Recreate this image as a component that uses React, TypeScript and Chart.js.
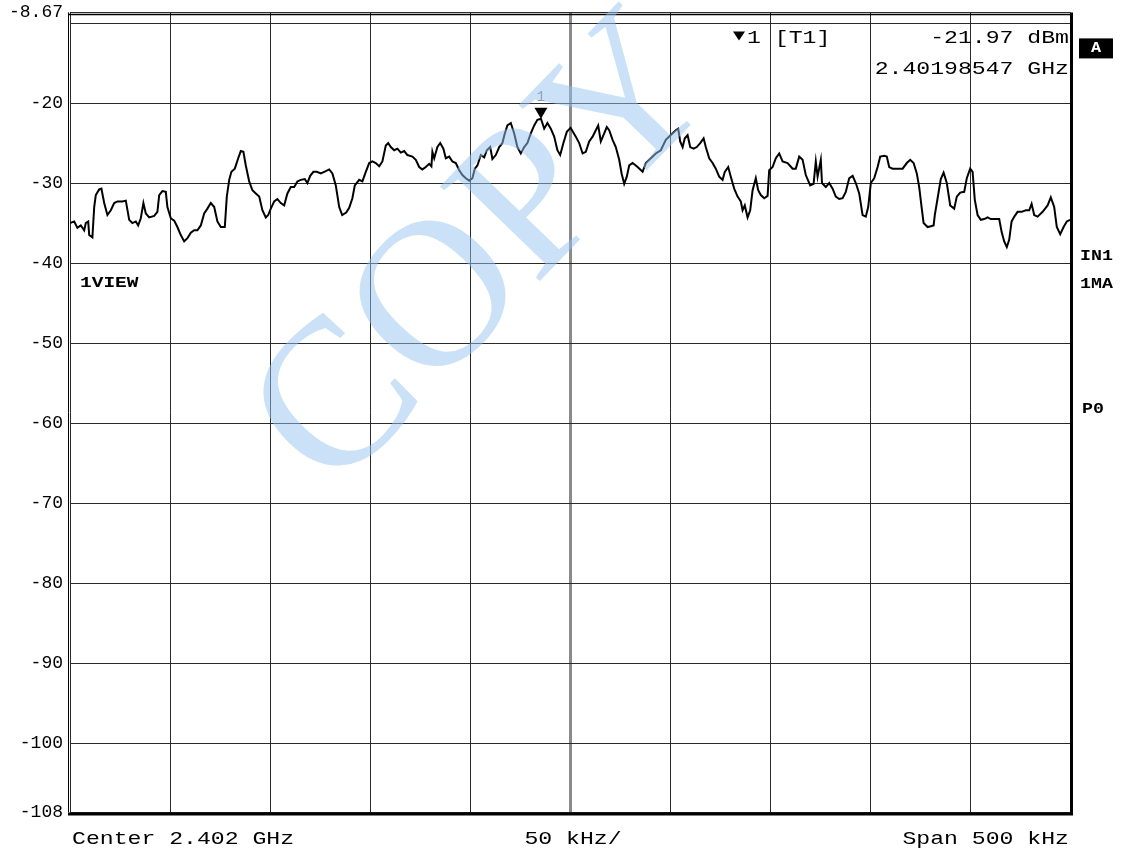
import { useEffect, useRef } from "react";
import { Chart, registerables } from "chart.js";

Chart.register(...registerables);

// Frequency offset from the 2.402 GHz centre (kHz) and measured level (dBm)
const offsetKHz = [
  -250, -247.9, -246.3, -244.6, -242.9, -242.1, -240.9, -240.4, -238.8, -237.9,
  -237.1, -235.4, -234.3, -232.9, -231.3, -229.6, -227.9, -226.3, -223.8, -222.1,
  -220.4, -218.8, -217.1, -215.9, -214.6, -213.3, -212.1, -210.4, -207.9, -206.3,
  -205.4, -203.8, -202.1, -201.3, -199.6, -197.9, -196.3, -194.6, -192.9, -191.3,
  -189.6, -187.9, -186.3, -184.6, -182.9, -181.3, -179.6, -177.9, -176.3, -174.6,
  -172.6, -171.6, -170.4, -169.3, -167.6, -165.9, -164.6, -163.3, -162.1, -160.4,
  -158.8, -157.1, -155.4, -153.8, -152.1, -150.9, -149.6, -147.9, -146.3, -144.6,
  -142.9, -141.3, -139.6, -137.9, -136.3, -134.6, -132.6, -131.3, -129.9, -128.3,
  -126.6, -124.6, -122.9, -120.4, -118.8, -117.1, -115.4, -113.9, -111.9, -110.4,
  -108.8, -107.6, -105.4, -103.8, -102.1, -100.4, -98.8, -97.1, -95.4, -93.8,
  -92.1, -90.9, -89.6, -87.9, -86.3, -84.6, -82.9, -81.3, -78.8, -77.1,
  -75.4, -73.8, -72.1, -70.4, -69.3, -68.8, -67.9, -66.3, -64.9, -63.3,
  -62.1, -60.4, -58.8, -57.1, -55.4, -53.8, -52.1, -50.4, -48.8, -47.6,
  -46.3, -44.6, -42.9, -41.6, -39.9, -38.8, -37.1, -35.4, -33.8, -32.6,
  -31.3, -29.6, -27.9, -26.3, -24.6, -22.9, -21.3, -19.6, -17.9, -16.3,
  -14.53, -12.9, -11.3, -9.6, -7.9, -6.3, -4.9, -3.3, -1.6, 0.3,
  2.9, 4.6, 6.3, 7.9, 9.6, 11.3, 12.9, 14.1, 15.4, 17.1,
  18.4, 19.6, 21.3, 22.9, 24.6, 25.8, 27.1, 28.4, 29.6, 31.3,
  33.8, 36.3, 37.9, 40.4, 42.9, 45.4, 47.9, 50.4, 52.9, 54.1,
  55.1, 56.3, 57.4, 58.8, 60.1, 61.8, 63.4, 65.1, 66.8, 67.9,
  69.6, 71.3, 72.9, 74.6, 76.3, 77.4, 79.1, 80.4, 82.1, 83.8,
  85.4, 86.3, 87.4, 88.8, 90.1, 91.3, 92.9, 94.1, 95.4, 97.1,
  98.8, 99.6, 101.3, 102.9, 104.6, 106.3, 108.8, 111.3, 112.9, 114.6,
  116.3, 117.9, 120.1, 121.8, 122.9, 123.8, 125.4, 126.0, 127.9, 129.6,
  131.3, 132.9, 134.6, 136.3, 137.9, 139.6, 141.3, 142.9, 144.6, 146.3,
  147.9, 149.1, 150.4, 152.1, 153.8, 155.1, 157.1, 158.4, 159.6, 161.3,
  163.8, 166.3, 168.4, 170.1, 171.8, 173.4, 174.6, 175.8, 176.8, 178.8,
  180.4, 181.8, 182.4, 183.8, 185.4, 186.8, 188.4, 190.1, 192.1, 193.4,
  195.1, 197.1, 198.4, 200.1, 201.3, 202.4, 203.8, 205.4, 207.1, 208.8,
  210.4, 212.1, 214.6, 215.8, 217.1, 218.4, 219.6, 220.8, 222.4, 223.8,
  225.8, 227.9, 229.6, 230.8, 232.1, 233.8, 236.3, 238.8, 240.4, 242.1,
  243.4, 245.1, 246.8, 248.4, 250,
];

const levelDBm = [
  -35.0, -34.8, -35.6, -35.3, -35.9, -35.0, -34.8, -36.5, -36.8, -33.0,
  -31.5, -30.8, -30.7, -32.5, -34.0, -33.4, -32.5, -32.3, -32.3, -32.2,
  -34.6, -35.0, -34.8, -35.3, -34.4, -32.5, -33.8, -34.3, -34.1, -33.6,
  -31.5, -31.0, -31.1, -33.0, -34.4, -34.7, -35.5, -36.5, -37.3, -36.9,
  -36.2, -35.9, -35.9, -35.3, -33.8, -33.2, -32.5, -33.0, -34.8, -35.5,
  -35.5, -31.7, -29.6, -28.6, -28.2, -26.9, -26.0, -26.1, -27.8, -29.8,
  -30.9, -31.3, -31.7, -33.4, -34.3, -34.0, -33.2, -32.3, -32.0, -32.5,
  -32.8, -31.3, -30.5, -30.5, -29.8, -29.6, -29.5, -30.0, -29.1, -28.6,
  -28.6, -28.8, -28.6, -28.3, -28.8, -30.3, -33.0, -34.0, -33.7, -33.1,
  -31.9, -30.3, -29.6, -29.8, -28.6, -27.5, -27.3, -27.5, -27.9, -27.3,
  -25.3, -25.0, -25.5, -25.9, -25.7, -26.2, -26.0, -26.5, -26.7, -27.1,
  -28.0, -28.3, -28.0, -27.6, -27.9, -26.1, -26.9, -25.5, -25.0, -25.7,
  -26.9, -26.7, -27.3, -27.5, -28.4, -29.0, -29.4, -29.7, -29.4, -28.2,
  -27.8, -26.5, -26.8, -25.9, -25.5, -27.0, -26.5, -25.5, -25.0, -23.8,
  -22.8, -22.5, -23.8, -25.5, -26.3, -25.5, -25.0, -23.8, -22.8, -22.1,
  -21.97, -23.2, -22.5, -23.2, -24.2, -25.9, -26.5, -25.0, -23.6, -23.1,
  -24.2, -25.0, -26.3, -26.1, -24.8, -24.2, -23.4, -22.8, -24.8, -23.8,
  -23.0, -23.4, -24.6, -25.5, -27.1, -28.8, -30.1, -29.2, -27.8, -27.5,
  -28.0, -28.6, -27.5, -26.9, -26.3, -25.9, -24.6, -24.0, -23.4, -23.2,
  -24.8, -25.5, -24.4, -24.0, -25.5, -25.7, -25.5, -25.0, -24.4, -25.5,
  -26.9, -27.5, -28.2, -29.2, -29.6, -28.6, -28.0, -29.2, -30.7, -31.7,
  -32.3, -33.4, -32.8, -34.3, -33.4, -30.9, -29.4, -30.9, -31.5, -31.9,
  -31.6, -28.4, -28.0, -26.9, -26.3, -27.3, -27.5, -28.2, -28.2, -26.7,
  -27.1, -29.0, -30.3, -30.1, -27.3, -29.2, -27.1, -30.0, -30.5, -30.0,
  -30.7, -31.7, -32.0, -31.9, -31.1, -29.4, -29.1, -30.0, -31.3, -34.0,
  -34.2, -33.0, -30.0, -29.4, -28.0, -26.7, -26.6, -26.7, -28.0, -28.2,
  -28.2, -28.2, -27.5, -27.1, -27.5, -28.8, -30.5, -33.0, -35.0, -35.5,
  -35.4, -35.3, -34.0, -31.9, -29.5, -28.7, -30.0, -32.8, -33.2, -31.7,
  -31.2, -31.1, -29.4, -28.2, -28.6, -32.1, -34.0, -34.6, -34.5, -34.3,
  -34.5, -34.5, -34.5, -36.1, -37.3, -38.0, -37.1, -34.8, -34.1, -33.6,
  -33.6, -33.4, -33.4, -32.6, -34.0, -34.2, -33.6, -32.8, -31.8, -33.0,
  -35.5, -36.4, -35.5, -34.8, -34.6,
];

// Reference-level axis: 100 dB display range, 10 dB per division
const yTickValues = [-108.67, -100, -90, -80, -70, -60, -50, -40, -30, -20, -10, -8.67];
const yTickLabels = ["-108", "-100", "-90", "-80", "-70", "-60", "-50", "-40", "-30", "-20", "", "-8.67"];
// Frequency axis: 50 kHz per division
const xTickValues = [-250, -200, -150, -100, -50, 0, 50, 100, 150, 200, 250];

const centerLabel = "Center 2.402 GHz";
const divisionLabel = "50 kHz/";
const spanLabel = "Span 500 kHz";

const markerFreqKHz = -14.53;
const markerLevel = -21.97;
const markerTitle = "1 [T1]";
const markerLevelText = "-21.97 dBm";
const markerFreqText = "2.40198547 GHz";

const leftSideLabels = ["1VIEW"];
const rightSideLabels = ["IN1", "1MA", "P0"];
const watermark = "COPY";

const MONO = '"Liberation Mono", "DejaVu Sans Mono", monospace';

function wideText(
  ctx: CanvasRenderingContext2D,
  text: string,
  x: number,
  y: number,
  align: "left" | "center" | "right",
  font: string,
  sx: number,
  color: string
) {
  ctx.save();
  ctx.font = font;
  ctx.fillStyle = color;
  ctx.textBaseline = "middle";
  ctx.textAlign = "left";
  const w = ctx.measureText(text).width * sx;
  const left = align === "left" ? x : align === "center" ? x - w / 2 : x - w;
  ctx.translate(left, y);
  ctx.scale(sx, 1);
  ctx.fillText(text, 0, 0);
  ctx.restore();
}

const analyzerDecor = {
  id: "analyzerDecor",
  afterDatasetsDraw(chart: any) {
    const { ctx, chartArea, scales } = chart;
    const { left, right, top, bottom } = chartArea;

    // frame: thin double line on left/top, heavy line on right/bottom
    ctx.save();
    ctx.strokeStyle = "#000";
    ctx.lineWidth = 1;
    ctx.beginPath();
    ctx.moveTo(left - 1.5, top);
    ctx.lineTo(left - 1.5, bottom);
    ctx.stroke();
    ctx.lineWidth = 1.5;
    ctx.beginPath();
    ctx.moveTo(left - 2, top + 2);
    ctx.lineTo(right, top + 2);
    ctx.stroke();
    ctx.lineWidth = 3;
    ctx.beginPath();
    ctx.moveTo(right + 1.5, top);
    ctx.lineTo(right + 1.5, bottom + 3);
    ctx.moveTo(left - 2, bottom + 1.5);
    ctx.lineTo(right + 3, bottom + 1.5);
    ctx.stroke();
    ctx.restore();

    // marker on the trace
    const mx = scales.x.getPixelForValue(markerFreqKHz);
    const my = scales.y.getPixelForValue(markerLevel);
    ctx.save();
    ctx.fillStyle = "#000";
    ctx.beginPath();
    ctx.moveTo(mx - 6.5, my - 11);
    ctx.lineTo(mx + 6.5, my - 11);
    ctx.lineTo(mx, my);
    ctx.closePath();
    ctx.fill();
    ctx.restore();
    wideText(ctx, "1", mx, my - 22, "center", `14px ${MONO}`, 1, "#808080");

    // marker readout
    const l1 = top + 24;
    const l2 = top + 57;
    ctx.save();
    ctx.fillStyle = "#000";
    ctx.beginPath();
    ctx.moveTo(733, l1 - 5);
    ctx.lineTo(745, l1 - 5);
    ctx.lineTo(739, l1 + 4);
    ctx.closePath();
    ctx.fill();
    ctx.restore();
    const txtFont = `18.5px ${MONO}`;
    wideText(ctx, markerTitle, 747, l1 + 2, "left", txtFont, 1.25, "#000");
    wideText(ctx, markerLevelText, right - 1, l1 + 2, "right", txtFont, 1.25, "#000");
    wideText(ctx, markerFreqText, right - 1, l2, "right", txtFont, 1.25, "#000");

    // bottom annotations
    const by = bottom + 27;
    wideText(ctx, centerLabel, left + 2, by, "left", txtFont, 1.25, "#000");
    wideText(ctx, divisionLabel, (left + right) / 2 + 3, by, "center", txtFont, 1.25, "#000");
    wideText(ctx, spanLabel, right - 1, by, "right", txtFont, 1.25, "#000");

    // side status labels
    const boldFont = `bold 15px ${MONO}`;
    wideText(ctx, leftSideLabels[0], left + 10, scales.y.getPixelForValue(-42.5), "left", boldFont, 1.3, "#000");
    wideText(ctx, rightSideLabels[0], right + 10, scales.y.getPixelForValue(-39.2), "left", boldFont, 1.22, "#000");
    wideText(ctx, rightSideLabels[1], right + 10, scales.y.getPixelForValue(-42.6), "left", boldFont, 1.22, "#000");
    wideText(ctx, rightSideLabels[2], right + 12, scales.y.getPixelForValue(-58.3), "left", boldFont, 1.22, "#000");

    // trace indicator box
    ctx.save();
    ctx.fillStyle = "#000";
    ctx.fillRect(right + 9, top + 26, 34, 20);
    ctx.restore();
    wideText(ctx, "A", right + 26, top + 36.5, "center", `bold 14px ${MONO}`, 1.2, "#fff");

    // translucent watermark across the plot
    ctx.save();
    ctx.translate(left + 0.417 * (right - left), top + 244);
    ctx.rotate((-46 * Math.PI) / 180);
    ctx.font = `210px "Liberation Serif", "DejaVu Serif", serif`;
    ctx.textAlign = "center";
    ctx.textBaseline = "middle";
    ctx.fillStyle = "rgba(150, 195, 240, 0.5)";
    ctx.fillText(watermark, 0, 0);
    ctx.restore();
  },
};

export default function App() {
  const canvasRef = useRef<HTMLCanvasElement | null>(null);

  useEffect(() => {
    const canvas = canvasRef.current;
    if (!canvas) return;
    const points = offsetKHz.map((f, i) => ({ x: f, y: levelDBm[i] }));

    const chart = new Chart(canvas, {
      type: "line",
      data: {
        datasets: [
          {
            data: points,
            borderColor: "#000",
            borderWidth: 2,
            pointRadius: 0,
            tension: 0,
            fill: false,
          },
        ],
      },
      options: {
        responsive: false,
        animation: false,
        events: [],
        layout: { padding: { top: 12.4, right: 55, left: 0, bottom: 0 } },
        plugins: {
          legend: { display: false },
          tooltip: { enabled: false },
          title: { display: false },
        },
        scales: {
          x: {
            type: "linear",
            min: -250,
            max: 250,
            afterBuildTicks: (s: any) => {
              s.ticks = xTickValues.map((v) => ({ value: v }));
            },
            afterFit: (s: any) => {
              s.height = 852 - 812.4;
              s.paddingLeft = 0;
              s.paddingRight = 0;
            },
            ticks: { display: false },
            grid: {
              color: (c: any) => (c.tick && c.tick.value === 0 ? "#8a8a8a" : "#2a2a2a"),
              lineWidth: (c: any) => (c.tick && c.tick.value === 0 ? 3 : 1),
              drawTicks: false,
            },
            border: { display: false },
          },
          y: {
            type: "linear",
            min: -108.67,
            max: -8.67,
            afterBuildTicks: (s: any) => {
              s.ticks = yTickValues.map((v) => ({ value: v }));
            },
            afterFit: (s: any) => {
              s.width = 70;
              s.paddingTop = 0;
              s.paddingBottom = 0;
            },
            ticks: {
              autoSkip: false,
              padding: 7,
              color: "#000",
              font: { family: MONO, size: 18 },
              callback: (_v: any, i: number) => yTickLabels[i],
            },
            grid: { color: "#2a2a2a", lineWidth: 1, drawTicks: false },
            border: { display: false },
          },
        },
      },
      plugins: [analyzerDecor],
    });

    return () => chart.destroy();
  }, []);

  return (
    <div style={{ position: "fixed", left: 0, top: 0, width: 1125, height: 852, background: "#fff" }}>
      <canvas ref={canvasRef} width={1125} height={852} />
    </div>
  );
}
